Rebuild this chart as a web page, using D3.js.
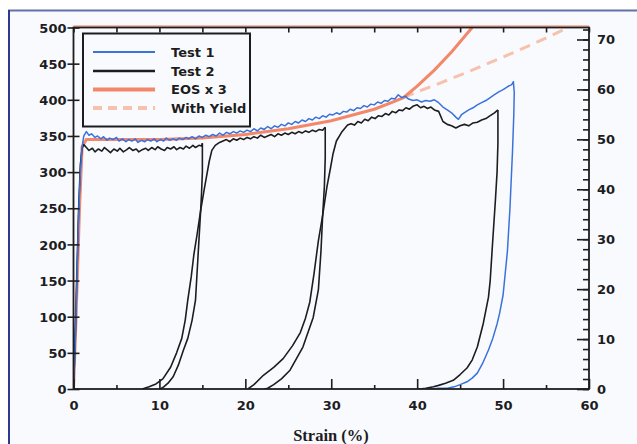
<!DOCTYPE html>
<html><head><meta charset="utf-8">
<script src="https://cdn.jsdelivr.net/npm/d3@7/dist/d3.min.js"></script>
<style>
html,body{margin:0;padding:0;background:#fff;}
svg{display:block;}
</style></head>
<body><svg id="c" width="637" height="444"></svg>
<script>
// ---- data (strain %, stress) ----
const xTicks = [0,10,20,30,40,50,60];
const xMinorTicks = [5,15,25,35,45,55];
const yTicks = [0,50,100,150,200,250,300,350,400,450,500];
const y2Ticks = [0,10,20,30,40,50,60,70];
const legendLabels = ["Test 1","Test 2","EOS x 3","With Yield"];

const test1 = [[0,0],[0.2,60],[0.4,150],[0.6,240],[0.8,300],[1.0,335],[1.2,350],[1.5,356],[1.8,351],[2.1,353],[2.5,348],[2.8,350],[3.2,346],[3.5,349],[3.9,344],[4.2,347],[4.6,345],[5,348],[5.3,343],[5.7,346],[6.1,342],[6.4,345],[6.8,343],[7.2,346],[7.5,341],[7.9,344],[8.3,342],[8.6,345],[9,343],[9.4,346],[9.7,342],[10.1,345],[10.5,343],[10.8,347],[11.2,344],[11.6,346],[12,344],[12.3,347],[12.7,345],[13.1,348],[13.4,346],[13.8,349],[14.2,346],[14.6,350],[15,348],[15.4,351],[15.8,349],[16.2,352],[16.6,350],[17,354],[17.4,351],[17.8,355],[18.2,353],[18.6,356],[19,354],[19.4,357],[19.8,355],[20.2,358],[20.6,356],[21,360],[21.4,357],[21.8,361],[22.2,359],[22.6,363],[23,360],[23.4,364],[23.8,362],[24.2,366],[24.6,364],[25,368],[25.4,366],[25.8,370],[26.2,368],[26.6,372],[27,370],[27.4,374],[27.8,372],[28.2,376],[28.6,374],[29,378],[29.4,376],[29.8,380],[30.2,379],[30.6,382],[31,380],[31.4,384],[31.8,383],[32.2,387],[32.6,385],[33,389],[33.4,388],[33.8,392],[34.2,390],[34.6,394],[35,393],[35.4,397],[35.8,395],[36.2,399],[36.6,398],[37,402],[37.4,401],[37.8,407],[38.2,403],[38.6,405],[39,401],[39.5,399],[40,400],[40.5,397],[41,399],[41.5,398],[42,400],[42.5,396],[43,390],[43.5,386],[44,382],[44.5,376],[44.8,373],[45.2,380],[45.6,383],[46,386],[46.5,389],[47,393],[47.5,396],[48,399],[48.5,403],[49,407],[49.5,411],[50,414],[50.5,418],[51,421],[51.2,425],[51.3,410],[51.25,380],[51.1,330],[50.8,250],[50.5,190],[50.0,130],[49.6,105],[49.3,90],[48.8,70],[48.3,54],[47.6,35],[47,22],[46.4,15],[45.8,10],[45,6],[44.3,3],[43.5,1],[42.5,1],[41.5,0],[40,0]];

const test2Load = [[0,0],[0.2,70],[0.4,160],[0.6,250],[0.8,310],[1.0,333],[1.2,338],[1.5,334],[1.8,330],[2.2,333],[2.5,328],[2.9,332],[3.3,329],[3.6,334],[4,330],[4.3,327],[4.7,332],[5.1,329],[5.4,333],[5.8,328],[6.2,331],[6.5,334],[6.9,330],[7.3,332],[7.6,328],[8,331],[8.4,333],[8.7,330],[9.1,334],[9.5,331],[9.8,335],[10.2,332],[10.6,330],[10.9,334],[11.3,332],[11.7,335],[12,331],[12.4,334],[12.8,332],[13.1,336],[13.5,333],[13.9,337],[14.2,334],[14.6,337],[14.9,336],[15.0,340]];
const test2Unload1 = [[15.0,340],[15.0,300],[14.9,270],[14.8,247],[14.5,185],[14.2,123],[13.8,95],[13.3,70],[12.8,54],[12.2,33],[11.6,17],[11.0,8],[10.5,3],[10.1,0]];
const test2Reload1 = [[8.0,0],[8.8,3],[9.6,7],[10.4,14],[11.3,30],[12.0,50],[12.6,70],[13.0,95],[13.3,123],[13.7,155],[14.0,185],[14.4,215],[14.8,247],[15.2,275],[15.5,295],[15.8,315],[16.1,330],[16.5,337],[17,341],[17.4,343],[17.8,345],[18.2,342],[18.6,346],[19,344],[19.4,347],[19.8,345],[20.2,348],[20.6,346],[21,349],[21.4,347],[21.8,351],[22.2,348],[22.6,350],[23,352],[23.4,349],[23.8,353],[24.2,351],[24.6,354],[25,352],[25.4,355],[25.8,353],[26.2,356],[26.6,354],[27,357],[27.4,355],[27.8,358],[28.2,356],[28.6,359],[29,358],[29.3,362]];
const test2Unload2 = [[29.3,362],[29.3,320],[29.2,280],[29.0,240],[28.8,190],[28.5,137],[27.9,99],[26.7,58],[25.2,26],[24.2,14],[23.3,6],[22.6,1],[22.2,0]];
const test2Reload2 = [[20.3,0],[21.0,6],[22.1,19],[23.3,30],[24.4,42],[25.5,60],[26.4,78],[27.0,98],[27.5,120],[28.0,160],[28.5,205],[29.0,240],[29.5,280],[29.9,305],[30.2,325],[30.6,343],[31.2,355],[31.9,365],[32.3,367],[32.7,365],[33.1,370],[33.5,368],[33.9,373],[34.3,371],[34.7,376],[35.1,374],[35.5,378],[35.9,377],[36.3,381],[36.7,379],[37.1,384],[37.5,382],[37.9,386],[38.3,385],[38.7,389],[39.1,387],[39.5,391],[40,393],[40.4,389],[40.8,391],[41.2,388],[41.6,390],[42,386],[42.5,384],[43,370],[43.5,366],[44,364],[44.5,361],[45,364],[45.5,366],[46,364],[46.5,368],[47,369],[47.5,372],[48,374],[48.5,378],[49,382],[49.4,386]];
const test2Unload3 = [[49.4,386],[49.4,340],[49.3,300],[49.1,260],[48.8,206],[48.5,150],[48.3,127],[47.7,91],[47,58],[46.4,40],[45.8,29],[45,20],[44.2,12],[43.3,8],[42.5,5],[41.9,3],[41,1],[40.3,0]];

const eos = [[0,0],[0.3,100],[0.7,250],[1.0,335],[1.5,345],[5,345],[10,345],[15,347],[20,352],[25,360],[30,371],[35,387],[37,396],[38.4,403],[40,419],[42,441],[44,466],[46.4,500]];
const withYield = [[38.4,403],[40,411],[42,420],[46,439],[50,459],[54,480],[57.6,500]];

// ---- layout ----
const svg = d3.select("#c");
const W = 637, H = 444;
const x = d3.scaleLinear().domain([0,60]).range([73.5,589]);
const y = d3.scaleLinear().domain([0,500]).range([389,27.5]);
const y2 = d3.scaleLinear().domain([0,72.4]).range([389,27.5]);

const font = "'DejaVu Sans', Verdana, sans-serif";
const ink = "#1d1d1f";

// frame / background
svg.append("rect").attr("x",0).attr("y",0).attr("width",W).attr("height",H).attr("fill","#ffffff");
svg.append("rect").attr("x",9).attr("y",10.5).attr("width",W+20).attr("height",H+20)
  .attr("fill","#f9fafd").attr("stroke","#6271a8").attr("stroke-width",2);
svg.append("line").attr("x1",9).attr("x2",9).attr("y1",10).attr("y2",H)
  .attr("stroke","#2d3b8e").attr("stroke-width",2);

svg.append("defs").append("clipPath").attr("id","clip").append("rect")
  .attr("x",x(0)).attr("y",y(500)).attr("width",x(60)-x(0)).attr("height",y(0)-y(500));

const line = d3.line().x(d=>x(d[0])).y(d=>y(d[1]));
const plot = svg.append("g").attr("clip-path","url(#clip)");

plot.append("path").datum(withYield).attr("d",line).attr("fill","none")
  .attr("stroke","#f7c2ad").attr("stroke-width",3).attr("stroke-dasharray","11,7");
plot.append("path").datum(eos).attr("d",line).attr("fill","none")
  .attr("stroke","#f2876a").attr("stroke-width",3);
[test2Load,test2Unload1,test2Reload1,test2Unload2,test2Reload2,test2Unload3].forEach(s=>{
  plot.append("path").datum(s).attr("d",line).attr("fill","none")
    .attr("stroke",ink).attr("stroke-width",1.6).attr("stroke-linejoin","round");
});
plot.append("path").datum(test1).attr("d",line).attr("fill","none")
  .attr("stroke","#3a72dc").attr("stroke-width",1.5).attr("stroke-linejoin","round");

// axes frame
const ax = svg.append("g");
ax.append("line").attr("x1",x(0)).attr("x2",x(60)).attr("y1",y(500)-1.5).attr("y2",y(500)-1.5)
  .attr("stroke","#f4a58c").attr("stroke-width",1.5);
ax.append("rect").attr("x",x(0)).attr("y",y(500)).attr("width",x(60)-x(0)).attr("height",y(0)-y(500))
  .attr("fill","none").attr("stroke",ink).attr("stroke-width",1.8);

// bottom axis (ticks inward)
const bottom = d3.axisBottom(x).tickValues(xTicks).tickSize(-10).tickPadding(12).tickFormat(d3.format("d"));
const gb = svg.append("g").attr("transform",`translate(0,${y(0)})`).call(bottom);
svg.append("g").attr("transform",`translate(0,${y(0)})`)
  .call(d3.axisBottom(x).tickValues(xMinorTicks).tickSize(-4).tickFormat(""));
// top axis ticks inward
svg.append("g").attr("transform",`translate(0,${y(500)})`)
  .call(d3.axisTop(x).tickValues(xTicks.concat(xMinorTicks)).tickSize(-5).tickFormat(""));
// left axis (ticks crossing)
const gl = svg.append("g").attr("transform",`translate(${x(0)},0)`)
  .call(d3.axisLeft(y).tickValues(yTicks).tickSize(6).tickPadding(1).tickFormat(d3.format("d")));
svg.append("g").attr("transform",`translate(${x(0)},0)`)
  .call(d3.axisRight(y).tickValues(yTicks).tickSize(6).tickFormat(""));
// right axis
const gr = svg.append("g").attr("transform",`translate(${x(60)},0)`)
  .call(d3.axisLeft(y2).tickValues(y2Ticks).tickSize(12).tickFormat(""));
svg.append("g").attr("transform",`translate(${x(60)},0)`)
  .call(d3.axisLeft(y2).tickValues(d3.range(0,73,2)).tickSize(6).tickFormat(""));
svg.append("g").attr("transform",`translate(${x(60)},0)`)
  .call(d3.axisRight(y2).tickValues(y2Ticks).tickSize(0).tickPadding(8).tickFormat(d3.format("d")));

svg.selectAll(".domain").remove();
svg.selectAll(".tick line").attr("stroke",ink).attr("stroke-width",1.6);
svg.selectAll(".tick text").attr("fill",ink).style("font-family",font)
  .style("font-weight","bold").style("font-size","13px");
gl.selectAll(".tick text").attr("dy","0.36em");

// axis title
svg.append("text").attr("x",331).attr("y",441).attr("text-anchor","middle")
  .style("font-family","'Liberation Serif', 'Times New Roman', serif").style("font-weight","bold")
  .style("font-size","16.5px").attr("fill",ink).text("Strain (%)");

// legend
const lg = svg.append("g");
lg.append("rect").attr("x",83).attr("y",33.5).attr("width",167).attr("height",93)
  .attr("fill","#f9fafd").attr("stroke",ink).attr("stroke-width",2);
const lstyles = [
  {c:"#3a72dc", w:2, dash:null},
  {c:ink, w:2.4, dash:null},
  {c:"#f2876a", w:4, dash:null},
  {c:"#f7c2ad", w:4, dash:"9,6"}
];
const ly = [52,71,89.5,108];
legendLabels.forEach((t,i)=>{
  const s = lstyles[i];
  const l = lg.append("line").attr("x1",93).attr("x2",155).attr("y1",ly[i]).attr("y2",ly[i])
    .attr("stroke",s.c).attr("stroke-width",s.w);
  if (s.dash) l.attr("stroke-dasharray",s.dash);
  lg.append("text").attr("x",171).attr("y",ly[i]).attr("dy","0.36em")
    .style("font-family",font).style("font-weight","bold").style("font-size","13px")
    .attr("fill",ink).text(t);
});
</script></body></html>
